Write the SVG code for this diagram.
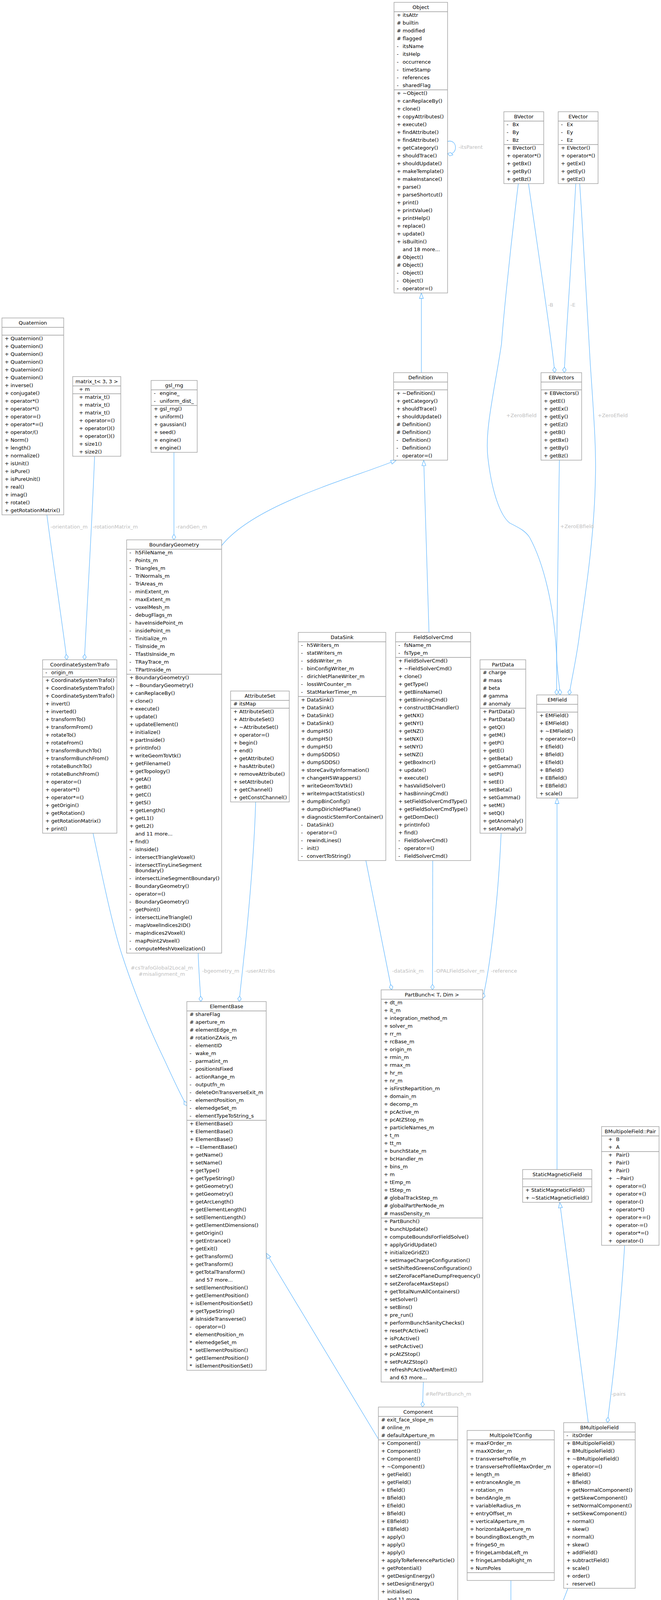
<svg xmlns="http://www.w3.org/2000/svg" width="1691" height="5436" viewBox="0 0 1691 5436">
<style>
text{font-family:"DejaVu Sans","Liberation Sans",sans-serif;font-size:13px;fill:#000}
.t{text-anchor:middle}
.b{fill:#fff;stroke:#999;stroke-width:1.3}
.s{fill:none;stroke:#999;stroke-width:1.3}
.hb{fill:#999;stroke:#666;stroke-width:1.3}
.hs{fill:none;stroke:#666;stroke-width:1.3}
.e{fill:none;stroke:#63b8ff;stroke-width:1.3}
.l{fill:#bebebe}
</style>
<defs>
<marker id="tri" viewBox="-1 -1 16 12" refX="14" refY="5" markerWidth="16" markerHeight="12" markerUnits="userSpaceOnUse" orient="auto"><path d="M14,5 L0,0 L0,10 Z" fill="#fff" stroke="#63b8ff" stroke-width="1.3"/></marker>
<marker id="dia" viewBox="-1 -1 16 11" refX="14" refY="4.5" markerWidth="16" markerHeight="11" markerUnits="userSpaceOnUse" orient="auto"><path d="M14,4.5 L7,0 L0,4.5 L7,9 Z" fill="#fff" stroke="#63b8ff" stroke-width="1.3"/></marker>
</defs>
<rect width="1691" height="5436" fill="#fff"/>
<g id="edges">
<path class="e" d="M1145,362 C1172,355 1172,400 1145,393" marker-end="url(#dia)"/>
<path class="e" d="M1078,954 L1078,750" marker-end="url(#tri)"/>
<path class="e" d="M1097.5,1619 L1084,1178" marker-end="url(#tri)"/>
<path class="e" d="M566,1398 C650,1290 900,1225 1014,1178" marker-end="url(#tri)"/>
<path class="e" d="M1352,470 C1385,700 1415,900 1419,954" marker-end="url(#dia)"/>
<path class="e" d="M1473,470 C1460,700 1445,900 1443.6,954" marker-end="url(#dia)"/>
<path class="e" d="M1326,470 C1300,680 1285,850 1283,880 C1265,1000 1240,1100 1248,1170 C1258,1260 1280,1320 1304,1339 C1330,1352 1345,1360 1355,1376 C1390,1440 1418,1550 1424,1680 L1424,1779" marker-end="url(#dia)"/>
<path class="e" d="M1483,470 C1495,650 1505,850 1510,930 C1518,1050 1526,1150 1523,1230 C1520,1380 1495,1540 1483,1620 C1476,1680 1462,1740 1456,1779" marker-end="url(#dia)"/>
<path class="e" d="M1431,1178 C1428,1400 1424,1600 1424,1680 C1425,1720 1431,1750 1433,1779" marker-end="url(#dia)"/>
<path class="e" d="M1425,2994 L1425,2043" marker-end="url(#tri)"/>
<path class="e" d="M1505,3642 L1432,3078" marker-end="url(#tri)"/>
<path class="e" d="M1598,3188 C1585,3400 1565,3550 1554,3642" marker-end="url(#dia)"/>
<path class="e" d="M1453,4066 L1401,4200" marker-end="url(#dia)"/>
<path class="e" d="M1307,4046 L1307,4170" marker-end="url(#dia)"/>
<path class="e" d="M1212,4210 L1171,4106" marker-end="url(#tri)"/>
<path class="e" d="M1083,3538 L1081,3602" marker-end="url(#dia)"/>
<path class="e" d="M968,3684 L681,3208" marker-end="url(#tri)"/>
<path class="e" d="M936,2203 L1002,2534" marker-end="url(#dia)"/>
<path class="e" d="M1107,2203 L1106.4,2534" marker-end="url(#dia)"/>
<path class="e" d="M1282,2133 C1275,2300 1255,2470 1235,2556" marker-end="url(#dia)"/>
<path class="e" d="M120,1318 C130,1400 160,1600 171,1689" marker-end="url(#dia)"/>
<path class="e" d="M242,1168 C235,1350 220,1600 216,1689" marker-end="url(#dia)"/>
<path class="e" d="M445,1158 L445,1382" marker-end="url(#dia)"/>
<path class="e" d="M238,2133 C265,2260 290,2380 314,2450 C340,2530 380,2630 420,2712 C440,2755 460,2800 478,2831" marker-end="url(#dia)"/>
<path class="e" d="M507,2440 C508,2480 512,2530 514,2564" marker-end="url(#dia)"/>
<path class="e" d="M654,2053 C650,2200 630,2400 624,2450 C620,2490 615,2530 612,2564" marker-end="url(#dia)"/>
<path class="e" d="M1307,4734 L1307,4798" marker-end="url(#dia)"/>
<path class="e" d="M1383,5246 L1366,5182" marker-end="url(#tri)"/>
<path class="e" d="M1518,4818 L1518,4644" marker-end="url(#tri)"/>
<path class="e" d="M1465,5162 L1442,5246" marker-end="url(#dia)"/>
<text class="l" x="1173" y="381">-itsParent</text>
<text class="l" x="1402" y="785">-B</text>
<text class="l" x="1459" y="785">-E</text>
<text class="l" x="1295" y="1068">+ZeroBfield</text>
<text class="l" x="1529" y="1068">+ZeroEfield</text>
<text class="l" x="1433" y="1352">+ZeroEBfield</text>
<text class="l" x="129" y="1353">-orientation_m</text>
<text class="l" x="237" y="1353">-rotationMatrix_m</text>
<text class="l" x="450" y="1353">-randGen_m</text>
<text class="l" x="1003" y="2490">-dataSink_m</text>
<text class="l" x="1111" y="2490">-OPALFieldSolver_m</text>
<text class="l" x="1256" y="2490">-reference</text>
<text class="l t" x="414" y="2482">#csTrafoGlobal2Local_m</text>
<text class="l t" x="414" y="2498">#misalignment_m</text>
<text class="l" x="517" y="2490">-bgeometry_m</text>
<text class="l" x="628" y="2490">-userAttribs</text>
<text class="l" x="1088" y="3573">#RefPartBunch_m</text>
<text class="l" x="1564" y="3573">-pairs</text>
<text class="l" x="1312" y="4141">#config_m</text>
<text class="l" x="1438" y="4140">#dummy</text>
<text class="l" x="1312" y="4768">#element_m</text>
<text class="l" x="1455" y="5216">-straightGeometry_m</text>
</g>
<g id="n_object">
<rect class="b" x="1008" y="6" width="137" height="744"/>
<text class="t" x="1076.5" y="23">Object</text>
<path class="s" d="M1008,30 h137 M1008,230 h137"/>
<text y="43"><tspan x="1015">+</tspan><tspan x="1030">itsAttr</tspan></text>
<text y="63"><tspan x="1015">#</tspan><tspan x="1030">builtin</tspan></text>
<text y="83"><tspan x="1015">#</tspan><tspan x="1030">modified</tspan></text>
<text y="103"><tspan x="1015">#</tspan><tspan x="1030">flagged</tspan></text>
<text y="123"><tspan x="1015">-</tspan><tspan x="1030">itsName</tspan></text>
<text y="143"><tspan x="1015">-</tspan><tspan x="1030">itsHelp</tspan></text>
<text y="163"><tspan x="1015">-</tspan><tspan x="1030">occurrence</tspan></text>
<text y="183"><tspan x="1015">-</tspan><tspan x="1030">timeStamp</tspan></text>
<text y="203"><tspan x="1015">-</tspan><tspan x="1030">references</tspan></text>
<text y="223"><tspan x="1015">-</tspan><tspan x="1030">sharedFlag</tspan></text>
<text y="243"><tspan x="1015">+</tspan><tspan x="1030">~Object()</tspan></text>
<text y="263"><tspan x="1015">+</tspan><tspan x="1030">canReplaceBy()</tspan></text>
<text y="283"><tspan x="1015">+</tspan><tspan x="1030">clone()</tspan></text>
<text y="303"><tspan x="1015">+</tspan><tspan x="1030">copyAttributes()</tspan></text>
<text y="323"><tspan x="1015">+</tspan><tspan x="1030">execute()</tspan></text>
<text y="343"><tspan x="1015">+</tspan><tspan x="1030">findAttribute()</tspan></text>
<text y="363"><tspan x="1015">+</tspan><tspan x="1030">findAttribute()</tspan></text>
<text y="383"><tspan x="1015">+</tspan><tspan x="1030">getCategory()</tspan></text>
<text y="403"><tspan x="1015">+</tspan><tspan x="1030">shouldTrace()</tspan></text>
<text y="423"><tspan x="1015">+</tspan><tspan x="1030">shouldUpdate()</tspan></text>
<text y="443"><tspan x="1015">+</tspan><tspan x="1030">makeTemplate()</tspan></text>
<text y="463"><tspan x="1015">+</tspan><tspan x="1030">makeInstance()</tspan></text>
<text y="483"><tspan x="1015">+</tspan><tspan x="1030">parse()</tspan></text>
<text y="503"><tspan x="1015">+</tspan><tspan x="1030">parseShortcut()</tspan></text>
<text y="523"><tspan x="1015">+</tspan><tspan x="1030">print()</tspan></text>
<text y="543"><tspan x="1015">+</tspan><tspan x="1030">printValue()</tspan></text>
<text y="563"><tspan x="1015">+</tspan><tspan x="1030">printHelp()</tspan></text>
<text y="583"><tspan x="1015">+</tspan><tspan x="1030">replace()</tspan></text>
<text y="603"><tspan x="1015">+</tspan><tspan x="1030">update()</tspan></text>
<text y="623"><tspan x="1015">+</tspan><tspan x="1030">isBuiltin()</tspan></text>
<text y="643"><tspan x="1030">and 18 more...</tspan></text>
<text y="663"><tspan x="1015">#</tspan><tspan x="1030">Object()</tspan></text>
<text y="683"><tspan x="1015">#</tspan><tspan x="1030">Object()</tspan></text>
<text y="703"><tspan x="1015">-</tspan><tspan x="1030">Object()</tspan></text>
<text y="723"><tspan x="1015">-</tspan><tspan x="1030">Object()</tspan></text>
<text y="743"><tspan x="1015">-</tspan><tspan x="1030">operator=()</tspan></text>
</g>
<g id="n_bvector">
<rect class="b" x="1289" y="286" width="102" height="184"/>
<text class="t" x="1340" y="303">BVector</text>
<path class="s" d="M1289,310 h102 M1289,370 h102"/>
<text y="323"><tspan x="1296">-</tspan><tspan x="1311">Bx</tspan></text>
<text y="343"><tspan x="1296">-</tspan><tspan x="1311">By</tspan></text>
<text y="363"><tspan x="1296">-</tspan><tspan x="1311">Bz</tspan></text>
<text y="383"><tspan x="1296">+</tspan><tspan x="1311">BVector()</tspan></text>
<text y="403"><tspan x="1296">+</tspan><tspan x="1311">operator*()</tspan></text>
<text y="423"><tspan x="1296">+</tspan><tspan x="1311">getBx()</tspan></text>
<text y="443"><tspan x="1296">+</tspan><tspan x="1311">getBy()</tspan></text>
<text y="463"><tspan x="1296">+</tspan><tspan x="1311">getBz()</tspan></text>
</g>
<g id="n_evector">
<rect class="b" x="1428" y="286" width="102" height="184"/>
<text class="t" x="1479" y="303">EVector</text>
<path class="s" d="M1428,310 h102 M1428,370 h102"/>
<text y="323"><tspan x="1435">-</tspan><tspan x="1450">Ex</tspan></text>
<text y="343"><tspan x="1435">-</tspan><tspan x="1450">Ey</tspan></text>
<text y="363"><tspan x="1435">-</tspan><tspan x="1450">Ez</tspan></text>
<text y="383"><tspan x="1435">+</tspan><tspan x="1450">EVector()</tspan></text>
<text y="403"><tspan x="1435">+</tspan><tspan x="1450">operator*()</tspan></text>
<text y="423"><tspan x="1435">+</tspan><tspan x="1450">getEx()</tspan></text>
<text y="443"><tspan x="1435">+</tspan><tspan x="1450">getEy()</tspan></text>
<text y="463"><tspan x="1435">+</tspan><tspan x="1450">getEz()</tspan></text>
</g>
<g id="n_quaternion">
<rect class="b" x="5" y="814" width="158" height="504"/>
<text class="t" x="84" y="831">Quaternion</text>
<path class="s" d="M5,838 h158 M5,858 h158"/>
<text y="871"><tspan x="12">+</tspan><tspan x="27">Quaternion()</tspan></text>
<text y="891"><tspan x="12">+</tspan><tspan x="27">Quaternion()</tspan></text>
<text y="911"><tspan x="12">+</tspan><tspan x="27">Quaternion()</tspan></text>
<text y="931"><tspan x="12">+</tspan><tspan x="27">Quaternion()</tspan></text>
<text y="951"><tspan x="12">+</tspan><tspan x="27">Quaternion()</tspan></text>
<text y="971"><tspan x="12">+</tspan><tspan x="27">Quaternion()</tspan></text>
<text y="991"><tspan x="12">+</tspan><tspan x="27">inverse()</tspan></text>
<text y="1011"><tspan x="12">+</tspan><tspan x="27">conjugate()</tspan></text>
<text y="1031"><tspan x="12">+</tspan><tspan x="27">operator*()</tspan></text>
<text y="1051"><tspan x="12">+</tspan><tspan x="27">operator*()</tspan></text>
<text y="1071"><tspan x="12">+</tspan><tspan x="27">operator=()</tspan></text>
<text y="1091"><tspan x="12">+</tspan><tspan x="27">operator*=()</tspan></text>
<text y="1111"><tspan x="12">+</tspan><tspan x="27">operator/()</tspan></text>
<text y="1131"><tspan x="12">+</tspan><tspan x="27">Norm()</tspan></text>
<text y="1151"><tspan x="12">+</tspan><tspan x="27">length()</tspan></text>
<text y="1171"><tspan x="12">+</tspan><tspan x="27">normalize()</tspan></text>
<text y="1191"><tspan x="12">+</tspan><tspan x="27">isUnit()</tspan></text>
<text y="1211"><tspan x="12">+</tspan><tspan x="27">isPure()</tspan></text>
<text y="1231"><tspan x="12">+</tspan><tspan x="27">isPureUnit()</tspan></text>
<text y="1251"><tspan x="12">+</tspan><tspan x="27">real()</tspan></text>
<text y="1271"><tspan x="12">+</tspan><tspan x="27">imag()</tspan></text>
<text y="1291"><tspan x="12">+</tspan><tspan x="27">rotate()</tspan></text>
<text y="1311"><tspan x="12">+</tspan><tspan x="27">getRotationMatrix()</tspan></text>
</g>
<g id="n_matrix">
<rect class="b" x="186" y="964" width="123" height="204"/>
<text class="t" x="247.5" y="981">matrix_t&lt; 3, 3 &gt;</text>
<path class="s" d="M186,988 h123 M186,1008 h123"/>
<text y="1001"><tspan x="202">+</tspan><tspan x="217">m</tspan></text>
<text y="1021"><tspan x="202">+</tspan><tspan x="217">matrix_t()</tspan></text>
<text y="1041"><tspan x="202">+</tspan><tspan x="217">matrix_t()</tspan></text>
<text y="1061"><tspan x="202">+</tspan><tspan x="217">matrix_t()</tspan></text>
<text y="1081"><tspan x="202">+</tspan><tspan x="217">operator=()</tspan></text>
<text y="1101"><tspan x="202">+</tspan><tspan x="217">operator()()</tspan></text>
<text y="1121"><tspan x="202">+</tspan><tspan x="217">operator()()</tspan></text>
<text y="1141"><tspan x="202">+</tspan><tspan x="217">size1()</tspan></text>
<text y="1161"><tspan x="202">+</tspan><tspan x="217">size2()</tspan></text>
</g>
<g id="n_gslrng">
<rect class="b" x="386.5" y="974" width="118" height="184"/>
<text class="t" x="445.5" y="991">gsl_rng</text>
<path class="s" d="M386.5,998 h118 M386.5,1038 h118"/>
<text y="1011"><tspan x="393.5">-</tspan><tspan x="408.5">engine_</tspan></text>
<text y="1031"><tspan x="393.5">-</tspan><tspan x="408.5">uniform_dist_</tspan></text>
<text y="1051"><tspan x="393.5">+</tspan><tspan x="408.5">gsl_rng()</tspan></text>
<text y="1071"><tspan x="393.5">+</tspan><tspan x="408.5">uniform()</tspan></text>
<text y="1091"><tspan x="393.5">+</tspan><tspan x="408.5">gaussian()</tspan></text>
<text y="1111"><tspan x="393.5">+</tspan><tspan x="408.5">seed()</tspan></text>
<text y="1131"><tspan x="393.5">+</tspan><tspan x="408.5">engine()</tspan></text>
<text y="1151"><tspan x="393.5">+</tspan><tspan x="408.5">engine()</tspan></text>
</g>
<g id="n_definition">
<rect class="b" x="1007" y="954" width="138" height="224"/>
<text class="t" x="1076" y="971">Definition</text>
<path class="s" d="M1007,978 h138 M1007,998 h138"/>
<text y="1011"><tspan x="1014">+</tspan><tspan x="1029">~Definition()</tspan></text>
<text y="1031"><tspan x="1014">+</tspan><tspan x="1029">getCategory()</tspan></text>
<text y="1051"><tspan x="1014">+</tspan><tspan x="1029">shouldTrace()</tspan></text>
<text y="1071"><tspan x="1014">+</tspan><tspan x="1029">shouldUpdate()</tspan></text>
<text y="1091"><tspan x="1014">#</tspan><tspan x="1029">Definition()</tspan></text>
<text y="1111"><tspan x="1014">#</tspan><tspan x="1029">Definition()</tspan></text>
<text y="1131"><tspan x="1014">-</tspan><tspan x="1029">Definition()</tspan></text>
<text y="1151"><tspan x="1014">-</tspan><tspan x="1029">Definition()</tspan></text>
<text y="1171"><tspan x="1014">-</tspan><tspan x="1029">operator=()</tspan></text>
</g>
<g id="n_ebvectors">
<rect class="b" x="1384" y="954" width="104" height="224"/>
<text class="t" x="1436" y="971">EBVectors</text>
<path class="s" d="M1384,978 h104 M1384,998 h104"/>
<text y="1011"><tspan x="1391">+</tspan><tspan x="1406">EBVectors()</tspan></text>
<text y="1031"><tspan x="1391">+</tspan><tspan x="1406">getE()</tspan></text>
<text y="1051"><tspan x="1391">+</tspan><tspan x="1406">getEx()</tspan></text>
<text y="1071"><tspan x="1391">+</tspan><tspan x="1406">getEy()</tspan></text>
<text y="1091"><tspan x="1391">+</tspan><tspan x="1406">getEz()</tspan></text>
<text y="1111"><tspan x="1391">+</tspan><tspan x="1406">getB()</tspan></text>
<text y="1131"><tspan x="1391">+</tspan><tspan x="1406">getBx()</tspan></text>
<text y="1151"><tspan x="1391">+</tspan><tspan x="1406">getBy()</tspan></text>
<text y="1171"><tspan x="1391">+</tspan><tspan x="1406">getBz()</tspan></text>
</g>
<g id="n_cst">
<rect class="b" x="109" y="1689" width="190" height="444"/>
<text class="t" x="204" y="1706">CoordinateSystemTrafo</text>
<path class="s" d="M109,1713 h190 M109,1733 h190"/>
<text y="1726"><tspan x="116">-</tspan><tspan x="131">origin_m</tspan></text>
<text y="1746"><tspan x="116">+</tspan><tspan x="131">CoordinateSystemTrafo()</tspan></text>
<text y="1766"><tspan x="116">+</tspan><tspan x="131">CoordinateSystemTrafo()</tspan></text>
<text y="1786"><tspan x="116">+</tspan><tspan x="131">CoordinateSystemTrafo()</tspan></text>
<text y="1806"><tspan x="116">+</tspan><tspan x="131">invert()</tspan></text>
<text y="1826"><tspan x="116">+</tspan><tspan x="131">inverted()</tspan></text>
<text y="1846"><tspan x="116">+</tspan><tspan x="131">transformTo()</tspan></text>
<text y="1866"><tspan x="116">+</tspan><tspan x="131">transformFrom()</tspan></text>
<text y="1886"><tspan x="116">+</tspan><tspan x="131">rotateTo()</tspan></text>
<text y="1906"><tspan x="116">+</tspan><tspan x="131">rotateFrom()</tspan></text>
<text y="1926"><tspan x="116">+</tspan><tspan x="131">transformBunchTo()</tspan></text>
<text y="1946"><tspan x="116">+</tspan><tspan x="131">transformBunchFrom()</tspan></text>
<text y="1966"><tspan x="116">+</tspan><tspan x="131">rotateBunchTo()</tspan></text>
<text y="1986"><tspan x="116">+</tspan><tspan x="131">rotateBunchFrom()</tspan></text>
<text y="2006"><tspan x="116">+</tspan><tspan x="131">operator=()</tspan></text>
<text y="2026"><tspan x="116">+</tspan><tspan x="131">operator*()</tspan></text>
<text y="2046"><tspan x="116">+</tspan><tspan x="131">operator*=()</tspan></text>
<text y="2066"><tspan x="116">+</tspan><tspan x="131">getOrigin()</tspan></text>
<text y="2086"><tspan x="116">+</tspan><tspan x="131">getRotation()</tspan></text>
<text y="2106"><tspan x="116">+</tspan><tspan x="131">getRotationMatrix()</tspan></text>
<text y="2126"><tspan x="116">+</tspan><tspan x="131">print()</tspan></text>
</g>
<g id="n_boundarygeometry">
<rect class="b" x="324" y="1382" width="243" height="1058"/>
<text class="t" x="445.5" y="1399">BoundaryGeometry</text>
<path class="s" d="M324,1406 h243 M324,1726 h243"/>
<text y="1419"><tspan x="331">-</tspan><tspan x="346">h5FileName_m</tspan></text>
<text y="1439"><tspan x="331">-</tspan><tspan x="346">Points_m</tspan></text>
<text y="1459"><tspan x="331">-</tspan><tspan x="346">Triangles_m</tspan></text>
<text y="1479"><tspan x="331">-</tspan><tspan x="346">TriNormals_m</tspan></text>
<text y="1499"><tspan x="331">-</tspan><tspan x="346">TriAreas_m</tspan></text>
<text y="1519"><tspan x="331">-</tspan><tspan x="346">minExtent_m</tspan></text>
<text y="1539"><tspan x="331">-</tspan><tspan x="346">maxExtent_m</tspan></text>
<text y="1559"><tspan x="331">-</tspan><tspan x="346">voxelMesh_m</tspan></text>
<text y="1579"><tspan x="331">-</tspan><tspan x="346">debugFlags_m</tspan></text>
<text y="1599"><tspan x="331">-</tspan><tspan x="346">haveInsidePoint_m</tspan></text>
<text y="1619"><tspan x="331">-</tspan><tspan x="346">insidePoint_m</tspan></text>
<text y="1639"><tspan x="331">-</tspan><tspan x="346">Tinitialize_m</tspan></text>
<text y="1659"><tspan x="331">-</tspan><tspan x="346">TisInside_m</tspan></text>
<text y="1679"><tspan x="331">-</tspan><tspan x="346">TfastIsInside_m</tspan></text>
<text y="1699"><tspan x="331">-</tspan><tspan x="346">TRayTrace_m</tspan></text>
<text y="1719"><tspan x="331">-</tspan><tspan x="346">TPartInside_m</tspan></text>
<text y="1739"><tspan x="331">+</tspan><tspan x="346">BoundaryGeometry()</tspan></text>
<text y="1759"><tspan x="331">+</tspan><tspan x="346">~BoundaryGeometry()</tspan></text>
<text y="1779"><tspan x="331">+</tspan><tspan x="346">canReplaceBy()</tspan></text>
<text y="1799"><tspan x="331">+</tspan><tspan x="346">clone()</tspan></text>
<text y="1819"><tspan x="331">+</tspan><tspan x="346">execute()</tspan></text>
<text y="1839"><tspan x="331">+</tspan><tspan x="346">update()</tspan></text>
<text y="1859"><tspan x="331">+</tspan><tspan x="346">updateElement()</tspan></text>
<text y="1879"><tspan x="331">+</tspan><tspan x="346">initialize()</tspan></text>
<text y="1899"><tspan x="331">+</tspan><tspan x="346">partInside()</tspan></text>
<text y="1919"><tspan x="331">+</tspan><tspan x="346">printInfo()</tspan></text>
<text y="1939"><tspan x="331">+</tspan><tspan x="346">writeGeomToVtk()</tspan></text>
<text y="1959"><tspan x="331">+</tspan><tspan x="346">getFilename()</tspan></text>
<text y="1979"><tspan x="331">+</tspan><tspan x="346">getTopology()</tspan></text>
<text y="1999"><tspan x="331">+</tspan><tspan x="346">getA()</tspan></text>
<text y="2019"><tspan x="331">+</tspan><tspan x="346">getB()</tspan></text>
<text y="2039"><tspan x="331">+</tspan><tspan x="346">getC()</tspan></text>
<text y="2059"><tspan x="331">+</tspan><tspan x="346">getS()</tspan></text>
<text y="2079"><tspan x="331">+</tspan><tspan x="346">getLength()</tspan></text>
<text y="2099"><tspan x="331">+</tspan><tspan x="346">getL1()</tspan></text>
<text y="2119"><tspan x="331">+</tspan><tspan x="346">getL2()</tspan></text>
<text y="2139"><tspan x="346">and 11 more...</tspan></text>
<text y="2159"><tspan x="331">+</tspan><tspan x="346">find()</tspan></text>
<text y="2179"><tspan x="331">-</tspan><tspan x="346">isInside()</tspan></text>
<text y="2199"><tspan x="331">-</tspan><tspan x="346">intersectTriangleVoxel()</tspan></text>
<text y="2219"><tspan x="331">-</tspan><tspan x="346">intersectTinyLineSegment</tspan></text>
<text y="2233"><tspan x="346">Boundary()</tspan></text>
<text y="2253"><tspan x="331">-</tspan><tspan x="346">intersectLineSegmentBoundary()</tspan></text>
<text y="2273"><tspan x="331">-</tspan><tspan x="346">BoundaryGeometry()</tspan></text>
<text y="2293"><tspan x="331">-</tspan><tspan x="346">operator=()</tspan></text>
<text y="2313"><tspan x="331">-</tspan><tspan x="346">BoundaryGeometry()</tspan></text>
<text y="2333"><tspan x="331">-</tspan><tspan x="346">getPoint()</tspan></text>
<text y="2353"><tspan x="331">-</tspan><tspan x="346">intersectLineTriangle()</tspan></text>
<text y="2373"><tspan x="331">-</tspan><tspan x="346">mapVoxelIndices2ID()</tspan></text>
<text y="2393"><tspan x="331">-</tspan><tspan x="346">mapIndices2Voxel()</tspan></text>
<text y="2413"><tspan x="331">-</tspan><tspan x="346">mapPoint2Voxel()</tspan></text>
<text y="2433"><tspan x="331">-</tspan><tspan x="346">computeMeshVoxelization()</tspan></text>
</g>
<g id="n_attributeset">
<rect class="b" x="590" y="1769" width="150" height="284"/>
<text class="t" x="665" y="1786">AttributeSet</text>
<path class="s" d="M590,1793 h150 M590,1813 h150"/>
<text y="1806"><tspan x="597">#</tspan><tspan x="612">itsMap</tspan></text>
<text y="1826"><tspan x="597">+</tspan><tspan x="612">AttributeSet()</tspan></text>
<text y="1846"><tspan x="597">+</tspan><tspan x="612">AttributeSet()</tspan></text>
<text y="1866"><tspan x="597">+</tspan><tspan x="612">~AttributeSet()</tspan></text>
<text y="1886"><tspan x="597">+</tspan><tspan x="612">operator=()</tspan></text>
<text y="1906"><tspan x="597">+</tspan><tspan x="612">begin()</tspan></text>
<text y="1926"><tspan x="597">+</tspan><tspan x="612">end()</tspan></text>
<text y="1946"><tspan x="597">+</tspan><tspan x="612">getAttribute()</tspan></text>
<text y="1966"><tspan x="597">+</tspan><tspan x="612">hasAttribute()</tspan></text>
<text y="1986"><tspan x="597">+</tspan><tspan x="612">removeAttribute()</tspan></text>
<text y="2006"><tspan x="597">+</tspan><tspan x="612">setAttribute()</tspan></text>
<text y="2026"><tspan x="597">+</tspan><tspan x="612">getChannel()</tspan></text>
<text y="2046"><tspan x="597">+</tspan><tspan x="612">getConstChannel()</tspan></text>
</g>
<g id="n_datasink">
<rect class="b" x="763" y="1619" width="224" height="584"/>
<text class="t" x="875" y="1636">DataSink</text>
<path class="s" d="M763,1643 h224 M763,1783 h224"/>
<text y="1656"><tspan x="770">-</tspan><tspan x="785">h5Writers_m</tspan></text>
<text y="1676"><tspan x="770">-</tspan><tspan x="785">statWriters_m</tspan></text>
<text y="1696"><tspan x="770">-</tspan><tspan x="785">sddsWriter_m</tspan></text>
<text y="1716"><tspan x="770">-</tspan><tspan x="785">binConfigWriter_m</tspan></text>
<text y="1736"><tspan x="770">-</tspan><tspan x="785">dirichletPlaneWriter_m</tspan></text>
<text y="1756"><tspan x="770">-</tspan><tspan x="785">lossWrCounter_m</tspan></text>
<text y="1776"><tspan x="770">-</tspan><tspan x="785">StatMarkerTimer_m</tspan></text>
<text y="1796"><tspan x="770">+</tspan><tspan x="785">DataSink()</tspan></text>
<text y="1816"><tspan x="770">+</tspan><tspan x="785">DataSink()</tspan></text>
<text y="1836"><tspan x="770">+</tspan><tspan x="785">DataSink()</tspan></text>
<text y="1856"><tspan x="770">+</tspan><tspan x="785">DataSink()</tspan></text>
<text y="1876"><tspan x="770">+</tspan><tspan x="785">dumpH5()</tspan></text>
<text y="1896"><tspan x="770">+</tspan><tspan x="785">dumpH5()</tspan></text>
<text y="1916"><tspan x="770">+</tspan><tspan x="785">dumpH5()</tspan></text>
<text y="1936"><tspan x="770">+</tspan><tspan x="785">dumpSDDS()</tspan></text>
<text y="1956"><tspan x="770">+</tspan><tspan x="785">dumpSDDS()</tspan></text>
<text y="1976"><tspan x="770">+</tspan><tspan x="785">storeCavityInformation()</tspan></text>
<text y="1996"><tspan x="770">+</tspan><tspan x="785">changeH5Wrappers()</tspan></text>
<text y="2016"><tspan x="770">+</tspan><tspan x="785">writeGeomToVtk()</tspan></text>
<text y="2036"><tspan x="770">+</tspan><tspan x="785">writeImpactStatistics()</tspan></text>
<text y="2056"><tspan x="770">+</tspan><tspan x="785">dumpBinConfig()</tspan></text>
<text y="2076"><tspan x="770">+</tspan><tspan x="785">dumpDirichletPlane()</tspan></text>
<text y="2096"><tspan x="770">+</tspan><tspan x="785">diagnosticStemForContainer()</tspan></text>
<text y="2116"><tspan x="770">-</tspan><tspan x="785">DataSink()</tspan></text>
<text y="2136"><tspan x="770">-</tspan><tspan x="785">operator=()</tspan></text>
<text y="2156"><tspan x="770">-</tspan><tspan x="785">rewindLines()</tspan></text>
<text y="2176"><tspan x="770">-</tspan><tspan x="785">init()</tspan></text>
<text y="2196"><tspan x="770">-</tspan><tspan x="785">convertToString()</tspan></text>
</g>
<g id="n_fieldsolvercmd">
<rect class="b" x="1012" y="1619" width="192" height="584"/>
<text class="t" x="1108" y="1636">FieldSolverCmd</text>
<path class="s" d="M1012,1643 h192 M1012,1683 h192"/>
<text y="1656"><tspan x="1019">-</tspan><tspan x="1034">fsName_m</tspan></text>
<text y="1676"><tspan x="1019">-</tspan><tspan x="1034">fsType_m</tspan></text>
<text y="1696"><tspan x="1019">+</tspan><tspan x="1034">FieldSolverCmd()</tspan></text>
<text y="1716"><tspan x="1019">+</tspan><tspan x="1034">~FieldSolverCmd()</tspan></text>
<text y="1736"><tspan x="1019">+</tspan><tspan x="1034">clone()</tspan></text>
<text y="1756"><tspan x="1019">+</tspan><tspan x="1034">getType()</tspan></text>
<text y="1776"><tspan x="1019">+</tspan><tspan x="1034">getBinsName()</tspan></text>
<text y="1796"><tspan x="1019">+</tspan><tspan x="1034">getBinningCmd()</tspan></text>
<text y="1816"><tspan x="1019">+</tspan><tspan x="1034">constructBCHandler()</tspan></text>
<text y="1836"><tspan x="1019">+</tspan><tspan x="1034">getNX()</tspan></text>
<text y="1856"><tspan x="1019">+</tspan><tspan x="1034">getNY()</tspan></text>
<text y="1876"><tspan x="1019">+</tspan><tspan x="1034">getNZ()</tspan></text>
<text y="1896"><tspan x="1019">+</tspan><tspan x="1034">setNX()</tspan></text>
<text y="1916"><tspan x="1019">+</tspan><tspan x="1034">setNY()</tspan></text>
<text y="1936"><tspan x="1019">+</tspan><tspan x="1034">setNZ()</tspan></text>
<text y="1956"><tspan x="1019">+</tspan><tspan x="1034">getBoxIncr()</tspan></text>
<text y="1976"><tspan x="1019">+</tspan><tspan x="1034">update()</tspan></text>
<text y="1996"><tspan x="1019">+</tspan><tspan x="1034">execute()</tspan></text>
<text y="2016"><tspan x="1019">+</tspan><tspan x="1034">hasValidSolver()</tspan></text>
<text y="2036"><tspan x="1019">+</tspan><tspan x="1034">hasBinningCmd()</tspan></text>
<text y="2056"><tspan x="1019">+</tspan><tspan x="1034">setFieldSolverCmdType()</tspan></text>
<text y="2076"><tspan x="1019">+</tspan><tspan x="1034">getFieldSolverCmdType()</tspan></text>
<text y="2096"><tspan x="1019">+</tspan><tspan x="1034">getDomDec()</tspan></text>
<text y="2116"><tspan x="1019">+</tspan><tspan x="1034">printInfo()</tspan></text>
<text y="2136"><tspan x="1019">+</tspan><tspan x="1034">find()</tspan></text>
<text y="2156"><tspan x="1019">-</tspan><tspan x="1034">FieldSolverCmd()</tspan></text>
<text y="2176"><tspan x="1019">-</tspan><tspan x="1034">operator=()</tspan></text>
<text y="2196"><tspan x="1019">-</tspan><tspan x="1034">FieldSolverCmd()</tspan></text>
</g>
<g id="n_partdata">
<rect class="b" x="1228" y="1689" width="117" height="444"/>
<text class="t" x="1286.5" y="1706">PartData</text>
<path class="s" d="M1228,1713 h117 M1228,1813 h117"/>
<text y="1726"><tspan x="1235">#</tspan><tspan x="1250">charge</tspan></text>
<text y="1746"><tspan x="1235">#</tspan><tspan x="1250">mass</tspan></text>
<text y="1766"><tspan x="1235">#</tspan><tspan x="1250">beta</tspan></text>
<text y="1786"><tspan x="1235">#</tspan><tspan x="1250">gamma</tspan></text>
<text y="1806"><tspan x="1235">#</tspan><tspan x="1250">anomaly</tspan></text>
<text y="1826"><tspan x="1235">+</tspan><tspan x="1250">PartData()</tspan></text>
<text y="1846"><tspan x="1235">+</tspan><tspan x="1250">PartData()</tspan></text>
<text y="1866"><tspan x="1235">+</tspan><tspan x="1250">getQ()</tspan></text>
<text y="1886"><tspan x="1235">+</tspan><tspan x="1250">getM()</tspan></text>
<text y="1906"><tspan x="1235">+</tspan><tspan x="1250">getP()</tspan></text>
<text y="1926"><tspan x="1235">+</tspan><tspan x="1250">getE()</tspan></text>
<text y="1946"><tspan x="1235">+</tspan><tspan x="1250">getBeta()</tspan></text>
<text y="1966"><tspan x="1235">+</tspan><tspan x="1250">getGamma()</tspan></text>
<text y="1986"><tspan x="1235">+</tspan><tspan x="1250">setP()</tspan></text>
<text y="2006"><tspan x="1235">+</tspan><tspan x="1250">setE()</tspan></text>
<text y="2026"><tspan x="1235">+</tspan><tspan x="1250">setBeta()</tspan></text>
<text y="2046"><tspan x="1235">+</tspan><tspan x="1250">setGamma()</tspan></text>
<text y="2066"><tspan x="1235">+</tspan><tspan x="1250">setM()</tspan></text>
<text y="2086"><tspan x="1235">+</tspan><tspan x="1250">setQ()</tspan></text>
<text y="2106"><tspan x="1235">+</tspan><tspan x="1250">getAnomaly()</tspan></text>
<text y="2126"><tspan x="1235">+</tspan><tspan x="1250">setAnomaly()</tspan></text>
</g>
<g id="n_emfield">
<rect class="b" x="1373" y="1779" width="105" height="264"/>
<text class="t" x="1425.5" y="1796">EMField</text>
<path class="s" d="M1373,1803 h105 M1373,1823 h105"/>
<text y="1836"><tspan x="1380">+</tspan><tspan x="1395">EMField()</tspan></text>
<text y="1856"><tspan x="1380">+</tspan><tspan x="1395">EMField()</tspan></text>
<text y="1876"><tspan x="1380">+</tspan><tspan x="1395">~EMField()</tspan></text>
<text y="1896"><tspan x="1380">+</tspan><tspan x="1395">operator=()</tspan></text>
<text y="1916"><tspan x="1380">+</tspan><tspan x="1395">Efield()</tspan></text>
<text y="1936"><tspan x="1380">+</tspan><tspan x="1395">Bfield()</tspan></text>
<text y="1956"><tspan x="1380">+</tspan><tspan x="1395">Efield()</tspan></text>
<text y="1976"><tspan x="1380">+</tspan><tspan x="1395">Bfield()</tspan></text>
<text y="1996"><tspan x="1380">+</tspan><tspan x="1395">EBfield()</tspan></text>
<text y="2016"><tspan x="1380">+</tspan><tspan x="1395">EBfield()</tspan></text>
<text y="2036"><tspan x="1380">+</tspan><tspan x="1395">scale()</tspan></text>
</g>
<g id="n_elementbase">
<rect class="b" x="478" y="2564" width="203" height="944"/>
<text class="t" x="579.5" y="2581">ElementBase</text>
<path class="s" d="M478,2588 h203 M478,2868 h203"/>
<text y="2601"><tspan x="485">#</tspan><tspan x="500">shareFlag</tspan></text>
<text y="2621"><tspan x="485">#</tspan><tspan x="500">aperture_m</tspan></text>
<text y="2641"><tspan x="485">#</tspan><tspan x="500">elementEdge_m</tspan></text>
<text y="2661"><tspan x="485">#</tspan><tspan x="500">rotationZAxis_m</tspan></text>
<text y="2681"><tspan x="485">-</tspan><tspan x="500">elementID</tspan></text>
<text y="2701"><tspan x="485">-</tspan><tspan x="500">wake_m</tspan></text>
<text y="2721"><tspan x="485">-</tspan><tspan x="500">parmatint_m</tspan></text>
<text y="2741"><tspan x="485">-</tspan><tspan x="500">positionIsFixed</tspan></text>
<text y="2761"><tspan x="485">-</tspan><tspan x="500">actionRange_m</tspan></text>
<text y="2781"><tspan x="485">-</tspan><tspan x="500">outputfn_m</tspan></text>
<text y="2801"><tspan x="485">-</tspan><tspan x="500">deleteOnTransverseExit_m</tspan></text>
<text y="2821"><tspan x="485">-</tspan><tspan x="500">elementPosition_m</tspan></text>
<text y="2841"><tspan x="485">-</tspan><tspan x="500">elemedgeSet_m</tspan></text>
<text y="2861"><tspan x="485">-</tspan><tspan x="500">elementTypeToString_s</tspan></text>
<text y="2881"><tspan x="485">+</tspan><tspan x="500">ElementBase()</tspan></text>
<text y="2901"><tspan x="485">+</tspan><tspan x="500">ElementBase()</tspan></text>
<text y="2921"><tspan x="485">+</tspan><tspan x="500">ElementBase()</tspan></text>
<text y="2941"><tspan x="485">+</tspan><tspan x="500">~ElementBase()</tspan></text>
<text y="2961"><tspan x="485">+</tspan><tspan x="500">getName()</tspan></text>
<text y="2981"><tspan x="485">+</tspan><tspan x="500">setName()</tspan></text>
<text y="3001"><tspan x="485">+</tspan><tspan x="500">getType()</tspan></text>
<text y="3021"><tspan x="485">+</tspan><tspan x="500">getTypeString()</tspan></text>
<text y="3041"><tspan x="485">+</tspan><tspan x="500">getGeometry()</tspan></text>
<text y="3061"><tspan x="485">+</tspan><tspan x="500">getGeometry()</tspan></text>
<text y="3081"><tspan x="485">+</tspan><tspan x="500">getArcLength()</tspan></text>
<text y="3101"><tspan x="485">+</tspan><tspan x="500">getElementLength()</tspan></text>
<text y="3121"><tspan x="485">+</tspan><tspan x="500">setElementLength()</tspan></text>
<text y="3141"><tspan x="485">+</tspan><tspan x="500">getElementDimensions()</tspan></text>
<text y="3161"><tspan x="485">+</tspan><tspan x="500">getOrigin()</tspan></text>
<text y="3181"><tspan x="485">+</tspan><tspan x="500">getEntrance()</tspan></text>
<text y="3201"><tspan x="485">+</tspan><tspan x="500">getExit()</tspan></text>
<text y="3221"><tspan x="485">+</tspan><tspan x="500">getTransform()</tspan></text>
<text y="3241"><tspan x="485">+</tspan><tspan x="500">getTransform()</tspan></text>
<text y="3261"><tspan x="485">+</tspan><tspan x="500">getTotalTransform()</tspan></text>
<text y="3281"><tspan x="500">and 57 more...</tspan></text>
<text y="3301"><tspan x="485">+</tspan><tspan x="500">setElementPosition()</tspan></text>
<text y="3321"><tspan x="485">+</tspan><tspan x="500">getElementPosition()</tspan></text>
<text y="3341"><tspan x="485">+</tspan><tspan x="500">isElementPositionSet()</tspan></text>
<text y="3361"><tspan x="485">+</tspan><tspan x="500">getTypeString()</tspan></text>
<text y="3381"><tspan x="485">#</tspan><tspan x="500">isInsideTransverse()</tspan></text>
<text y="3401"><tspan x="485">-</tspan><tspan x="500">operator=()</tspan></text>
<text y="3421"><tspan x="485">*</tspan><tspan x="500">elementPosition_m</tspan></text>
<text y="3441"><tspan x="485">*</tspan><tspan x="500">elemedgeSet_m</tspan></text>
<text y="3461"><tspan x="485">*</tspan><tspan x="500">setElementPosition()</tspan></text>
<text y="3481"><tspan x="485">*</tspan><tspan x="500">getElementPosition()</tspan></text>
<text y="3501"><tspan x="485">*</tspan><tspan x="500">isElementPositionSet()</tspan></text>
</g>
<g id="n_partbunch">
<rect class="b" x="975" y="2534" width="260" height="1004"/>
<text class="t" x="1105" y="2551">PartBunch&lt; T, Dim &gt;</text>
<path class="s" d="M975,2558 h260 M975,3118 h260"/>
<text y="2571"><tspan x="982">+</tspan><tspan x="997">dt_m</tspan></text>
<text y="2591"><tspan x="982">+</tspan><tspan x="997">it_m</tspan></text>
<text y="2611"><tspan x="982">+</tspan><tspan x="997">integration_method_m</tspan></text>
<text y="2631"><tspan x="982">+</tspan><tspan x="997">solver_m</tspan></text>
<text y="2651"><tspan x="982">+</tspan><tspan x="997">rr_m</tspan></text>
<text y="2671"><tspan x="982">+</tspan><tspan x="997">rcBase_m</tspan></text>
<text y="2691"><tspan x="982">+</tspan><tspan x="997">origin_m</tspan></text>
<text y="2711"><tspan x="982">+</tspan><tspan x="997">rmin_m</tspan></text>
<text y="2731"><tspan x="982">+</tspan><tspan x="997">rmax_m</tspan></text>
<text y="2751"><tspan x="982">+</tspan><tspan x="997">hr_m</tspan></text>
<text y="2771"><tspan x="982">+</tspan><tspan x="997">nr_m</tspan></text>
<text y="2791"><tspan x="982">+</tspan><tspan x="997">isFirstRepartition_m</tspan></text>
<text y="2811"><tspan x="982">+</tspan><tspan x="997">domain_m</tspan></text>
<text y="2831"><tspan x="982">+</tspan><tspan x="997">decomp_m</tspan></text>
<text y="2851"><tspan x="982">+</tspan><tspan x="997">pcActive_m</tspan></text>
<text y="2871"><tspan x="982">+</tspan><tspan x="997">pcAtZStop_m</tspan></text>
<text y="2891"><tspan x="982">+</tspan><tspan x="997">particleNames_m</tspan></text>
<text y="2911"><tspan x="982">+</tspan><tspan x="997">t_m</tspan></text>
<text y="2931"><tspan x="982">+</tspan><tspan x="997">tt_m</tspan></text>
<text y="2951"><tspan x="982">+</tspan><tspan x="997">bunchState_m</tspan></text>
<text y="2971"><tspan x="982">+</tspan><tspan x="997">bcHandler_m</tspan></text>
<text y="2991"><tspan x="982">+</tspan><tspan x="997">bins_m</tspan></text>
<text y="3011"><tspan x="982">+</tspan><tspan x="997">m</tspan></text>
<text y="3031"><tspan x="982">+</tspan><tspan x="997">tEmp_m</tspan></text>
<text y="3051"><tspan x="982">+</tspan><tspan x="997">tStep_m</tspan></text>
<text y="3071"><tspan x="982">#</tspan><tspan x="997">globalTrackStep_m</tspan></text>
<text y="3091"><tspan x="982">#</tspan><tspan x="997">globalPartPerNode_m</tspan></text>
<text y="3111"><tspan x="982">#</tspan><tspan x="997">massDensity_m</tspan></text>
<text y="3131"><tspan x="982">+</tspan><tspan x="997">PartBunch()</tspan></text>
<text y="3151"><tspan x="982">+</tspan><tspan x="997">bunchUpdate()</tspan></text>
<text y="3171"><tspan x="982">+</tspan><tspan x="997">computeBoundsForFieldSolve()</tspan></text>
<text y="3191"><tspan x="982">+</tspan><tspan x="997">applyGridUpdate()</tspan></text>
<text y="3211"><tspan x="982">+</tspan><tspan x="997">initializeGridZ()</tspan></text>
<text y="3231"><tspan x="982">+</tspan><tspan x="997">setImageChargeConfiguration()</tspan></text>
<text y="3251"><tspan x="982">+</tspan><tspan x="997">setShiftedGreensConfiguration()</tspan></text>
<text y="3271"><tspan x="982">+</tspan><tspan x="997">setZeroFacePlaneDumpFrequency()</tspan></text>
<text y="3291"><tspan x="982">+</tspan><tspan x="997">setZerofaceMaxSteps()</tspan></text>
<text y="3311"><tspan x="982">+</tspan><tspan x="997">getTotalNumAllContainers()</tspan></text>
<text y="3331"><tspan x="982">+</tspan><tspan x="997">setSolver()</tspan></text>
<text y="3351"><tspan x="982">+</tspan><tspan x="997">setBins()</tspan></text>
<text y="3371"><tspan x="982">+</tspan><tspan x="997">pre_run()</tspan></text>
<text y="3391"><tspan x="982">+</tspan><tspan x="997">performBunchSanityChecks()</tspan></text>
<text y="3411"><tspan x="982">+</tspan><tspan x="997">resetPcActive()</tspan></text>
<text y="3431"><tspan x="982">+</tspan><tspan x="997">isPcActive()</tspan></text>
<text y="3451"><tspan x="982">+</tspan><tspan x="997">setPcActive()</tspan></text>
<text y="3471"><tspan x="982">+</tspan><tspan x="997">pcAtZStop()</tspan></text>
<text y="3491"><tspan x="982">+</tspan><tspan x="997">setPcAtZStop()</tspan></text>
<text y="3511"><tspan x="982">+</tspan><tspan x="997">refreshPcActiveAfterEmit()</tspan></text>
<text y="3531"><tspan x="997">and 63 more...</tspan></text>
</g>
<g id="n_staticmagneticfield">
<rect class="b" x="1337" y="2994" width="177" height="84"/>
<text class="t" x="1425.5" y="3011">StaticMagneticField</text>
<path class="s" d="M1337,3018 h177 M1337,3038 h177"/>
<text y="3051"><tspan x="1344">+</tspan><tspan x="1359">StaticMagneticField()</tspan></text>
<text y="3071"><tspan x="1344">+</tspan><tspan x="1359">~StaticMagneticField()</tspan></text>
</g>
<g id="n_pair">
<rect class="b" x="1539" y="2884" width="147" height="304"/>
<text class="t" x="1612.5" y="2901">BMultipoleField::Pair</text>
<path class="s" d="M1539,2908 h147 M1539,2948 h147"/>
<text y="2921"><tspan x="1556">+</tspan><tspan x="1576">B</tspan></text>
<text y="2941"><tspan x="1556">+</tspan><tspan x="1576">A</tspan></text>
<text y="2961"><tspan x="1556">+</tspan><tspan x="1576">Pair()</tspan></text>
<text y="2981"><tspan x="1556">+</tspan><tspan x="1576">Pair()</tspan></text>
<text y="3001"><tspan x="1556">+</tspan><tspan x="1576">Pair()</tspan></text>
<text y="3021"><tspan x="1556">+</tspan><tspan x="1576">~Pair()</tspan></text>
<text y="3041"><tspan x="1556">+</tspan><tspan x="1576">operator=()</tspan></text>
<text y="3061"><tspan x="1556">+</tspan><tspan x="1576">operator+()</tspan></text>
<text y="3081"><tspan x="1556">+</tspan><tspan x="1576">operator-()</tspan></text>
<text y="3101"><tspan x="1556">+</tspan><tspan x="1576">operator*()</tspan></text>
<text y="3121"><tspan x="1556">+</tspan><tspan x="1576">operator+=()</tspan></text>
<text y="3141"><tspan x="1556">+</tspan><tspan x="1576">operator-=()</tspan></text>
<text y="3161"><tspan x="1556">+</tspan><tspan x="1576">operator*=()</tspan></text>
<text y="3181"><tspan x="1556">+</tspan><tspan x="1576">operator-()</tspan></text>
</g>
<g id="n_component">
<rect class="b" x="968" y="3602" width="203" height="504"/>
<text class="t" x="1069.5" y="3619">Component</text>
<path class="s" d="M968,3626 h203 M968,3686 h203"/>
<text y="3639"><tspan x="975">#</tspan><tspan x="990">exit_face_slope_m</tspan></text>
<text y="3659"><tspan x="975">#</tspan><tspan x="990">online_m</tspan></text>
<text y="3679"><tspan x="975">#</tspan><tspan x="990">defaultAperture_m</tspan></text>
<text y="3699"><tspan x="975">+</tspan><tspan x="990">Component()</tspan></text>
<text y="3719"><tspan x="975">+</tspan><tspan x="990">Component()</tspan></text>
<text y="3739"><tspan x="975">+</tspan><tspan x="990">Component()</tspan></text>
<text y="3759"><tspan x="975">+</tspan><tspan x="990">~Component()</tspan></text>
<text y="3779"><tspan x="975">+</tspan><tspan x="990">getField()</tspan></text>
<text y="3799"><tspan x="975">+</tspan><tspan x="990">getField()</tspan></text>
<text y="3819"><tspan x="975">+</tspan><tspan x="990">Efield()</tspan></text>
<text y="3839"><tspan x="975">+</tspan><tspan x="990">Bfield()</tspan></text>
<text y="3859"><tspan x="975">+</tspan><tspan x="990">Efield()</tspan></text>
<text y="3879"><tspan x="975">+</tspan><tspan x="990">Bfield()</tspan></text>
<text y="3899"><tspan x="975">+</tspan><tspan x="990">EBfield()</tspan></text>
<text y="3919"><tspan x="975">+</tspan><tspan x="990">EBfield()</tspan></text>
<text y="3939"><tspan x="975">+</tspan><tspan x="990">apply()</tspan></text>
<text y="3959"><tspan x="975">+</tspan><tspan x="990">apply()</tspan></text>
<text y="3979"><tspan x="975">+</tspan><tspan x="990">apply()</tspan></text>
<text y="3999"><tspan x="975">+</tspan><tspan x="990">applyToReferenceParticle()</tspan></text>
<text y="4019"><tspan x="975">+</tspan><tspan x="990">getPotential()</tspan></text>
<text y="4039"><tspan x="975">+</tspan><tspan x="990">getDesignEnergy()</tspan></text>
<text y="4059"><tspan x="975">+</tspan><tspan x="990">setDesignEnergy()</tspan></text>
<text y="4079"><tspan x="975">+</tspan><tspan x="990">initialise()</tspan></text>
<text y="4099"><tspan x="990">and 11 more...</tspan></text>
</g>
<g id="n_multipoletconfig">
<rect class="b" x="1195" y="3662" width="223" height="384"/>
<text class="t" x="1306.5" y="3679">MultipoleTConfig</text>
<path class="s" d="M1195,3686 h223 M1195,4026 h223"/>
<text y="3699"><tspan x="1202">+</tspan><tspan x="1217">maxFOrder_m</tspan></text>
<text y="3719"><tspan x="1202">+</tspan><tspan x="1217">maxXOrder_m</tspan></text>
<text y="3739"><tspan x="1202">+</tspan><tspan x="1217">transverseProfile_m</tspan></text>
<text y="3759"><tspan x="1202">+</tspan><tspan x="1217">transverseProfileMaxOrder_m</tspan></text>
<text y="3779"><tspan x="1202">+</tspan><tspan x="1217">length_m</tspan></text>
<text y="3799"><tspan x="1202">+</tspan><tspan x="1217">entranceAngle_m</tspan></text>
<text y="3819"><tspan x="1202">+</tspan><tspan x="1217">rotation_m</tspan></text>
<text y="3839"><tspan x="1202">+</tspan><tspan x="1217">bendAngle_m</tspan></text>
<text y="3859"><tspan x="1202">+</tspan><tspan x="1217">variableRadius_m</tspan></text>
<text y="3879"><tspan x="1202">+</tspan><tspan x="1217">entryOffset_m</tspan></text>
<text y="3899"><tspan x="1202">+</tspan><tspan x="1217">verticalAperture_m</tspan></text>
<text y="3919"><tspan x="1202">+</tspan><tspan x="1217">horizontalAperture_m</tspan></text>
<text y="3939"><tspan x="1202">+</tspan><tspan x="1217">boundingBoxLength_m</tspan></text>
<text y="3959"><tspan x="1202">+</tspan><tspan x="1217">fringeS0_m</tspan></text>
<text y="3979"><tspan x="1202">+</tspan><tspan x="1217">fringeLambdaLeft_m</tspan></text>
<text y="3999"><tspan x="1202">+</tspan><tspan x="1217">fringeLambdaRight_m</tspan></text>
<text y="4019"><tspan x="1202">+</tspan><tspan x="1217">NumPoles</tspan></text>
</g>
<g id="n_bmultipolefield">
<rect class="b" x="1442" y="3642" width="183" height="424"/>
<text class="t" x="1533.5" y="3659">BMultipoleField</text>
<path class="s" d="M1442,3666 h183 M1442,3686 h183"/>
<text y="3679"><tspan x="1449">-</tspan><tspan x="1464">itsOrder</tspan></text>
<text y="3699"><tspan x="1449">+</tspan><tspan x="1464">BMultipoleField()</tspan></text>
<text y="3719"><tspan x="1449">+</tspan><tspan x="1464">BMultipoleField()</tspan></text>
<text y="3739"><tspan x="1449">+</tspan><tspan x="1464">~BMultipoleField()</tspan></text>
<text y="3759"><tspan x="1449">+</tspan><tspan x="1464">operator=()</tspan></text>
<text y="3779"><tspan x="1449">+</tspan><tspan x="1464">Bfield()</tspan></text>
<text y="3799"><tspan x="1449">+</tspan><tspan x="1464">Bfield()</tspan></text>
<text y="3819"><tspan x="1449">+</tspan><tspan x="1464">getNormalComponent()</tspan></text>
<text y="3839"><tspan x="1449">+</tspan><tspan x="1464">getSkewComponent()</tspan></text>
<text y="3859"><tspan x="1449">+</tspan><tspan x="1464">setNormalComponent()</tspan></text>
<text y="3879"><tspan x="1449">+</tspan><tspan x="1464">setSkewComponent()</tspan></text>
<text y="3899"><tspan x="1449">+</tspan><tspan x="1464">normal()</tspan></text>
<text y="3919"><tspan x="1449">+</tspan><tspan x="1464">skew()</tspan></text>
<text y="3939"><tspan x="1449">+</tspan><tspan x="1464">normal()</tspan></text>
<text y="3959"><tspan x="1449">+</tspan><tspan x="1464">skew()</tspan></text>
<text y="3979"><tspan x="1449">+</tspan><tspan x="1464">addField()</tspan></text>
<text y="3999"><tspan x="1449">+</tspan><tspan x="1464">subtractField()</tspan></text>
<text y="4019"><tspan x="1449">+</tspan><tspan x="1464">scale()</tspan></text>
<text y="4039"><tspan x="1449">+</tspan><tspan x="1464">order()</tspan></text>
<text y="4059"><tspan x="1449">-</tspan><tspan x="1464">reserve()</tspan></text>
</g>
<g id="n_multipolet">
<rect class="b" x="1212" y="4170" width="189" height="564"/>
<text class="t" x="1306.5" y="4187">MultipoleT</text>
<path class="s" d="M1212,4194 h189 M1212,4254 h189"/>
<text y="4207"><tspan x="1219">#</tspan><tspan x="1234">scalingName_m</tspan></text>
<text y="4227"><tspan x="1219">#</tspan><tspan x="1234">scalingTD_m</tspan></text>
<text y="4247"><tspan x="1219">#</tspan><tspan x="1234">implementation_m</tspan></text>
<text y="4267"><tspan x="1219">+</tspan><tspan x="1234">MultipoleT()</tspan></text>
<text y="4287"><tspan x="1219">+</tspan><tspan x="1234">MultipoleT()</tspan></text>
<text y="4307"><tspan x="1219">+</tspan><tspan x="1234">~MultipoleT()</tspan></text>
<text y="4327"><tspan x="1219">+</tspan><tspan x="1234">clone()</tspan></text>
<text y="4347"><tspan x="1219">+</tspan><tspan x="1234">accept()</tspan></text>
<text y="4367"><tspan x="1219">+</tspan><tspan x="1234">getGeometry()</tspan></text>
<text y="4387"><tspan x="1219">+</tspan><tspan x="1234">getGeometry()</tspan></text>
<text y="4407"><tspan x="1219">+</tspan><tspan x="1234">getField()</tspan></text>
<text y="4427"><tspan x="1219">+</tspan><tspan x="1234">getField()</tspan></text>
<text y="4447"><tspan x="1219">+</tspan><tspan x="1234">apply()</tspan></text>
<text y="4467"><tspan x="1219">+</tspan><tspan x="1234">apply()</tspan></text>
<text y="4487"><tspan x="1219">+</tspan><tspan x="1234">apply()</tspan></text>
<text y="4507"><tspan x="1219">+</tspan><tspan x="1234">initialise()</tspan></text>
<text y="4527"><tspan x="1219">+</tspan><tspan x="1234">finalise()</tspan></text>
<text y="4547"><tspan x="1219">+</tspan><tspan x="1234">bends()</tspan></text>
<text y="4567"><tspan x="1219">+</tspan><tspan x="1234">getMaxFOrder()</tspan></text>
<text y="4587"><tspan x="1219">+</tspan><tspan x="1234">getMaxXOrder()</tspan></text>
<text y="4607"><tspan x="1219">+</tspan><tspan x="1234">setMaxOrder()</tspan></text>
<text y="4627"><tspan x="1219">+</tspan><tspan x="1234">getTransMaxOrder()</tspan></text>
<text y="4647"><tspan x="1219">+</tspan><tspan x="1234">setTransProfile()</tspan></text>
<text y="4667"><tspan x="1234">and 23 more...</tspan></text>
<text y="4687"><tspan x="1219">#</tspan><tspan x="1234">chooseImplementation()</tspan></text>
<text y="4707"><tspan x="1219">#</tspan><tspan x="1234">getScaling()</tspan></text>
<text y="4727"><tspan x="1219">#</tspan><tspan x="1234">validateConfiguration()</tspan></text>
</g>
<g id="n_bgeometrybase">
<rect class="b" x="1440" y="4260" width="157" height="384"/>
<text class="t" x="1518.5" y="4277">BGeometryBase</text>
<path class="s" d="M1440,4284 h157 M1440,4304 h157"/>
<text y="4317"><tspan x="1447">+</tspan><tspan x="1462">BGeometryBase()</tspan></text>
<text y="4337"><tspan x="1447">+</tspan><tspan x="1462">BGeometryBase()</tspan></text>
<text y="4357"><tspan x="1447">+</tspan><tspan x="1462">~BGeometryBase()</tspan></text>
<text y="4377"><tspan x="1447">+</tspan><tspan x="1462">operator=()</tspan></text>
<text y="4397"><tspan x="1447">+</tspan><tspan x="1462">getArcLength()</tspan></text>
<text y="4417"><tspan x="1447">+</tspan><tspan x="1462">getElementLength()</tspan></text>
<text y="4437"><tspan x="1447">+</tspan><tspan x="1462">setElementLength()</tspan></text>
<text y="4457"><tspan x="1447">+</tspan><tspan x="1462">getOrigin()</tspan></text>
<text y="4477"><tspan x="1447">+</tspan><tspan x="1462">getEntrance()</tspan></text>
<text y="4497"><tspan x="1447">+</tspan><tspan x="1462">getExit()</tspan></text>
<text y="4517"><tspan x="1447">+</tspan><tspan x="1462">getTransform()</tspan></text>
<text y="4537"><tspan x="1447">+</tspan><tspan x="1462">getTransform()</tspan></text>
<text y="4557"><tspan x="1447">+</tspan><tspan x="1462">getTotalTransform()</tspan></text>
<text y="4577"><tspan x="1447">+</tspan><tspan x="1462">getEntranceFrame()</tspan></text>
<text y="4597"><tspan x="1447">+</tspan><tspan x="1462">getExitFrame()</tspan></text>
<text y="4617"><tspan x="1447">+</tspan><tspan x="1462">getEntrancePatch()</tspan></text>
<text y="4637"><tspan x="1447">+</tspan><tspan x="1462">getExitPatch()</tspan></text>
</g>
<g id="n_multipoletbase">
<rect class="b" x="1202" y="4798" width="209" height="384"/>
<text class="t" x="1306.5" y="4815">MultipoleTBase</text>
<path class="s" d="M1202,4822 h209 M1202,4922 h209"/>
<text y="4835"><tspan x="1209">+</tspan><tspan x="1224">MaxFactorial</tspan></text>
<text y="4855"><tspan x="1209">+</tspan><tspan x="1224">MaxPowerInteger</tspan></text>
<text y="4875"><tspan x="1209">+</tspan><tspan x="1224">MaxDerivatives</tspan></text>
<text y="4895"><tspan x="1209">#</tspan><tspan x="1224">tanhCoefficientsGpu_m</tspan></text>
<text y="4915"><tspan x="1209">#</tspan><tspan x="1224">tanhCoefficientsHost_m</tspan></text>
<text y="4935"><tspan x="1209">+</tspan><tspan x="1224">MultipoleTBase()</tspan></text>
<text y="4955"><tspan x="1209">+</tspan><tspan x="1224">~MultipoleTBase()</tspan></text>
<text y="4975"><tspan x="1209">+</tspan><tspan x="1224">initialise()</tspan></text>
<text y="4995"><tspan x="1209">+</tspan><tspan x="1224">getGeometry()</tspan></text>
<text y="5015"><tspan x="1209">+</tspan><tspan x="1224">getField()</tspan></text>
<text y="5035"><tspan x="1209">+</tspan><tspan x="1224">getField()</tspan></text>
<text y="5055"><tspan x="1209">+</tspan><tspan x="1224">generateTanhCoefficients()</tspan></text>
<text y="5075"><tspan x="1209">+</tspan><tspan x="1224">factorial()</tspan></text>
<text y="5095"><tspan x="1209">+</tspan><tspan x="1224">powerInteger()</tspan></text>
<text y="5115"><tspan x="1209">+</tspan><tspan x="1224">calcTransverseDerivatives()</tspan></text>
<text y="5135"><tspan x="1209">+</tspan><tspan x="1224">calcFringeDerivatives()</tspan></text>
<text y="5155"><tspan x="1209">+</tspan><tspan x="1224">rotateFrame()</tspan></text>
<text y="5175"><tspan x="1209">+</tspan><tspan x="1224">calcPowers()</tspan></text>
</g>
<g id="n_straightgeometry">
<rect class="b" x="1436" y="4818" width="165" height="344"/>
<text class="t" x="1518.5" y="4835">StraightGeometry</text>
<path class="s" d="M1436,4842 h165 M1436,4862 h165"/>
<text y="4855"><tspan x="1443">-</tspan><tspan x="1458">len</tspan></text>
<text y="4875"><tspan x="1443">+</tspan><tspan x="1458">StraightGeometry()</tspan></text>
<text y="4895"><tspan x="1443">+</tspan><tspan x="1458">StraightGeometry()</tspan></text>
<text y="4915"><tspan x="1443">+</tspan><tspan x="1458">~StraightGeometry()</tspan></text>
<text y="4935"><tspan x="1443">+</tspan><tspan x="1458">operator=()</tspan></text>
<text y="4955"><tspan x="1443">+</tspan><tspan x="1458">getArcLength()</tspan></text>
<text y="4975"><tspan x="1443">+</tspan><tspan x="1458">getElementLength()</tspan></text>
<text y="4995"><tspan x="1443">+</tspan><tspan x="1458">setElementLength()</tspan></text>
<text y="5015"><tspan x="1443">+</tspan><tspan x="1458">getOrigin()</tspan></text>
<text y="5035"><tspan x="1443">+</tspan><tspan x="1458">getEntrance()</tspan></text>
<text y="5055"><tspan x="1443">+</tspan><tspan x="1458">getExit()</tspan></text>
<text y="5075"><tspan x="1443">+</tspan><tspan x="1458">getTransform()</tspan></text>
<text y="5095"><tspan x="1443">+</tspan><tspan x="1458">getTransform()</tspan></text>
<text y="5115"><tspan x="1443">+</tspan><tspan x="1458">getTotalTransform()</tspan></text>
<text y="5135"><tspan x="1443">+</tspan><tspan x="1458">getEntranceFrame()</tspan></text>
<text y="5155"><tspan x="1443">+</tspan><tspan x="1458">getExitFrame()</tspan></text>
</g>
<g id="n_multipoletstraight">
<rect class="hb" x="1332" y="5246" width="160" height="184"/>
<text class="t" x="1412" y="5263">MultipoleTStraight</text>
<path class="hs" d="M1332,5270 h160 M1332,5290 h160"/>
<text y="5303"><tspan x="1339">+</tspan><tspan x="1354">MultipoleTStraight()</tspan></text>
<text y="5323"><tspan x="1339">+</tspan><tspan x="1354">initialise()</tspan></text>
<text y="5343"><tspan x="1339">+</tspan><tspan x="1354">getGeometry()</tspan></text>
<text y="5363"><tspan x="1339">+</tspan><tspan x="1354">getField()</tspan></text>
<text y="5383"><tspan x="1339">+</tspan><tspan x="1354">getField()</tspan></text>
<text y="5403"><tspan x="1339">-</tspan><tspan x="1354">toMagnetCoords()</tspan></text>
<text y="5423"><tspan x="1339">-</tspan><tspan x="1354">computeBField()</tspan></text>
</g>
</svg>
